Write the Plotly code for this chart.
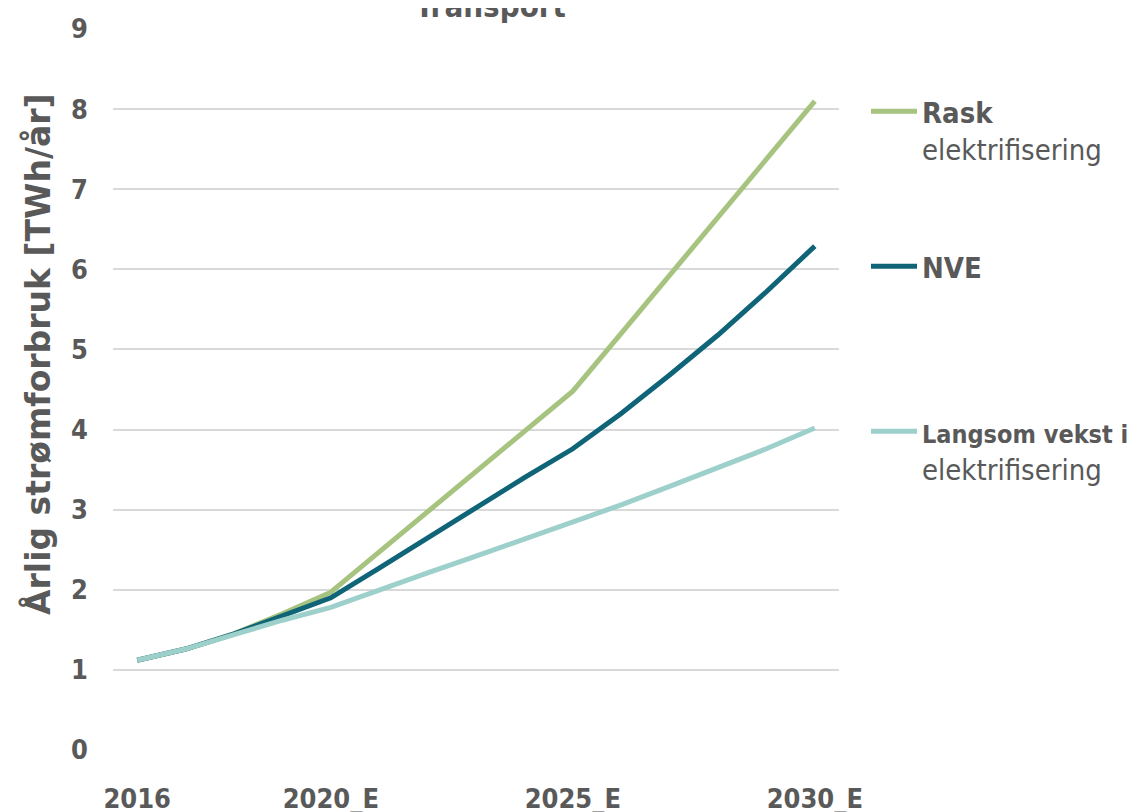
import plotly.graph_objects as go

years = list(range(2016, 2031))
rask = [1.12, 1.26, 1.45, 1.70, 1.97, 2.47, 2.97, 3.47, 3.98, 4.48, 5.20, 5.93, 6.65, 7.37, 8.10]
nve = [1.12, 1.26, 1.45, 1.67, 1.90, 2.27, 2.65, 3.03, 3.40, 3.76, 4.20, 4.68, 5.18, 5.72, 6.29]
langsom = [1.12, 1.26, 1.44, 1.62, 1.78, 2.00, 2.21, 2.42, 2.63, 2.85, 3.06, 3.29, 3.52, 3.76, 4.02]
tick_years = [2016, 2020, 2025, 2030]
tick_labels = ["2016", "2020_E", "2025_E", "2030_E"]
y_ticks = list(range(0, 10))

NARROW = "DejaVu Sans Condensed, DejaVu Sans, sans-serif"
GREY = "#595959"

fig = go.Figure()
fig.add_trace(go.Scatter(x=years, y=rask, mode="lines", name="<b>Rask</b><br>elektrifisering",
                         line=dict(color="#A6C47F", width=5), legend="legend", showlegend=True))
fig.add_trace(go.Scatter(x=years, y=nve, mode="lines", name="<b>NVE</b>",
                         line=dict(color="#0F6478", width=5), legend="legend2", showlegend=True))
fig.add_trace(go.Scatter(x=years, y=langsom, mode="lines",
                         name="<span style='font-size:25px'><b>Langsom vekst i</b></span><br>elektrifisering",
                         line=dict(color="#9DD0CB", width=5), legend="legend3", showlegend=True))

W, H = 1137, 812
OFF = 8  # page offset of the figure on screen
# target plot area on screen: x 113..839, y 29..750
L = 113 - OFF
T = 29 - OFF
R = W - (839 - OFF)
B = H - (750 - OFF)
pw, ph = W - L - R, H - T - B

def px(xs):
    return (xs - OFF - L) / pw

def py(ys):
    return (H - B - (ys - OFF)) / ph

leg_common = dict(font=dict(family=NARROW, size=29, color=GREY), bgcolor="rgba(0,0,0,0)",
                  xanchor="left", yanchor="top", valign="top", itemclick=False, itemwidth=46,
                  borderwidth=0)
fig.update_layout(
    width=W, height=H,
    showlegend=True,
    margin=dict(l=L, r=R, t=T, b=B, autoexpand=False),
    plot_bgcolor="white", paper_bgcolor="white",
    font=dict(family=NARROW, color=GREY),
    legend=dict(x=px(866), y=py(86), **leg_common),
    legend2=dict(x=px(866), y=py(241), **leg_common),
    legend3=dict(x=px(866), y=py(406), **leg_common),
    xaxis=dict(range=[2015.5, 2030.5], tickvals=tick_years, ticktext=tick_labels,
               showgrid=False, zeroline=False, showline=False, ticks="",
               tickfont=dict(family=NARROW, size=27, color=GREY, weight="bold"), ticklabelstandoff=30),
    yaxis=dict(range=[0, 9], tickvals=y_ticks, showgrid=True, gridcolor="#D9D9D9", gridwidth=1.5,
               zeroline=False, showline=False, ticks="",
               tickfont=dict(family=NARROW, size=27, color=GREY, weight="bold"), ticklabelstandoff=24),
    annotations=[
        dict(text="<b>Transport</b>", x=px(490), y=py(6), xref="paper", yref="paper",
             xanchor="center", yanchor="middle", showarrow=False,
             font=dict(family=NARROW, size=31, color=GREY)),
        dict(text="<b>Årlig strømforbruk [TWh/år]</b>", x=px(38), y=py(354), xref="paper", yref="paper",
             xanchor="center", yanchor="middle", showarrow=False, textangle=-90,
             font=dict(family="DejaVu Sans, sans-serif", size=33, color=GREY)),
    ],
)

fig.write_html("out.html")
